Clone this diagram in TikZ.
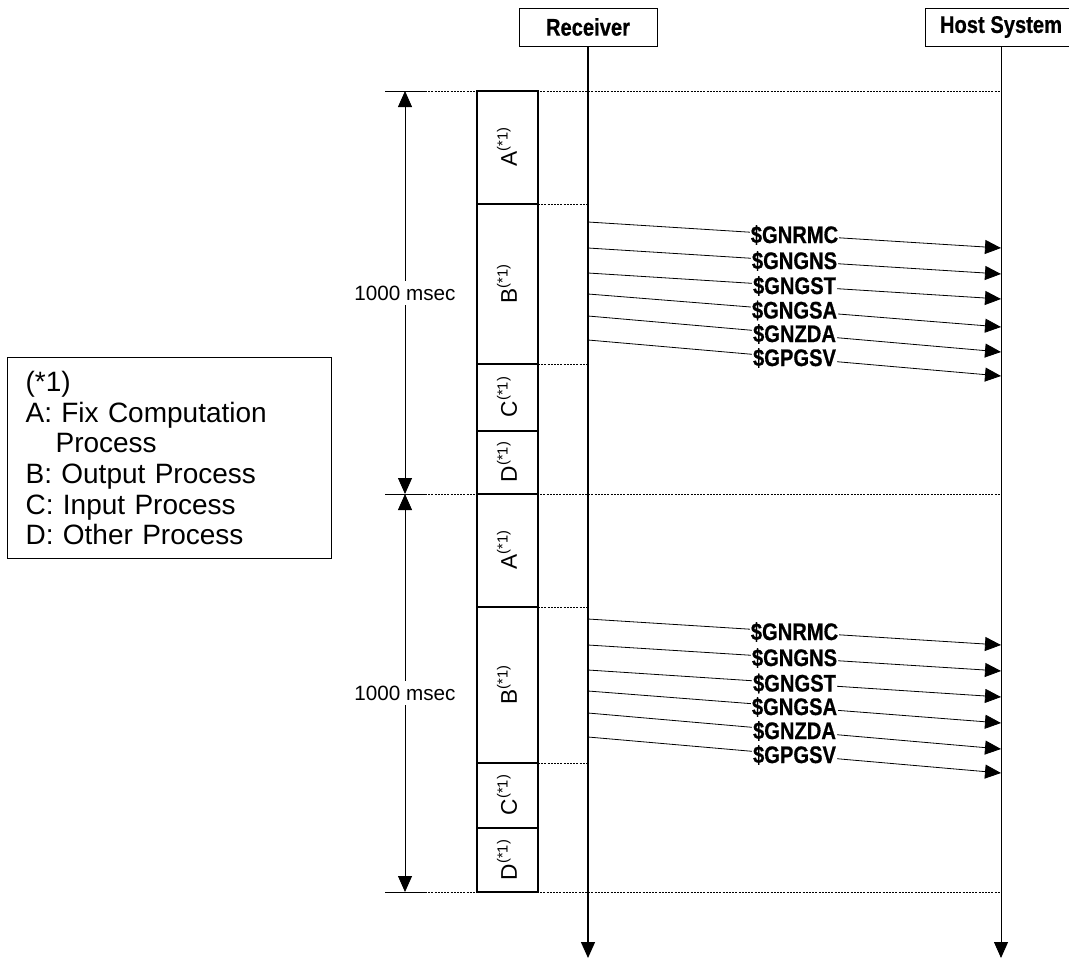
\documentclass[tikz,border=0pt]{standalone}
\usepackage{fontspec}
\setmainfont{Liberation Sans}
\newfontfamily\seqfont[FakeStretch=0.84,BoldFeatures={FakeBold=0.6}]{Liberation Sans}
\usetikzlibrary{arrows.meta}
\newcommand{\procmark}[1]{#1\raisebox{7pt}{\fontsize{11}{12}\selectfont(*1)}}

\begin{document}
\begin{tikzpicture}[x=0.75pt,y=-0.75pt,
    actor/.style={draw,line width=0.75pt,minimum height=28.5pt,inner sep=0pt,
      font=\seqfont\bfseries\fontsize{18}{20}\selectfont},
    tag/.style={fill=white,inner xsep=0.6pt,inner ysep=0pt,font=\seqfont\bfseries\fontsize{18}{20}\selectfont},
    msg/.style={line width=0.6pt,-{Triangle[length=12pt,width=10.5pt]}},
    dotline/.style={line width=0.6pt,dash pattern=on 1.5pt off 0.9pt},
    proc/.style={draw,line width=0.9pt},
    plabel/.style={rotate=90,font=\fontsize{17}{18}\selectfont},
    span/.style={line width=0.6pt,{Triangle[length=12pt,width=10.5pt]}-{Triangle[length=12pt,width=10.5pt]}},
    dur/.style={fill=white,font=\fontsize{15.5}{17}\selectfont}]
  \useasboundingbox (0,0) rectangle (1069,960);

  % lifelines
  \node[actor,minimum width=103.5pt] (recv) at (588,27) {Receiver};
  \node[actor,minimum width=114pt] (host) at (1001,27) {Host System};
  \coordinate (rend) at (588,958);
  \coordinate (hend) at (1001,958);
  \draw[line width=1pt,-{Triangle[length=12pt,width=10.5pt]}] (recv) -- (rend);
  \draw[line width=0.7pt,-{Triangle[length=12pt,width=10.5pt]}] (host) -- (hend);

  % frame boundaries
  \draw[line width=0.6pt] (385,91) -- (425,91);
  \draw[dotline] (425,91) -- (1001,91);
  \draw[line width=0.6pt] (385,494) -- (425,494);
  \draw[dotline] (425,494) -- (1001,494);
  \draw[line width=0.6pt] (385,892) -- (425,892);
  \draw[dotline] (425,892) -- (1001,892);
  \draw[dotline] (538,204) -- (588,204);
  \draw[dotline] (538,364) -- (588,364);
  \draw[dotline] (538,607) -- (588,607);
  \draw[dotline] (538,763) -- (588,763);

  % processes, first second
  \draw[proc] (477,91) rectangle (538,204);
  \draw[proc] (477,204) rectangle (538,364);
  \draw[proc] (477,364) rectangle (538,431);
  \draw[proc] (477,431) rectangle (538,494);
  \node[plabel] (pa1) at (507,147) {\procmark{A}};
  \node[plabel] (pb1) at (507,284) {\procmark{B}};
  \node[plabel] (pc1) at (507,397) {\procmark{C}};
  \node[plabel] (pd1) at (507,462) {\procmark{D}};

  % processes, next second
  \draw[proc] (477,494) rectangle (538,607);
  \draw[proc] (477,607) rectangle (538,763);
  \draw[proc] (477,763) rectangle (538,828);
  \draw[proc] (477,828) rectangle (538,892);
  \node[plabel] (pa2) at (507,550) {\procmark{A}};
  \node[plabel] (pb2) at (507,685) {\procmark{B}};
  \node[plabel] (pc2) at (507,795) {\procmark{C}};
  \node[plabel] (pd2) at (507,860) {\procmark{D}};

  % 1000 msec spans
  \coordinate (t1) at (405,91);
  \coordinate (t2) at (405,494);
  \coordinate (t3) at (405,892);
  \draw[span] (t1) -- (t2);
  \draw[span] (t2) -- (t3);
  \node[dur] (d1) at (405,293) {1000 msec};
  \node[dur] (d2) at (405,693) {1000 msec};

  % sentences, first second
  \coordinate (s1) at (588,222); \coordinate (e1) at (1001,248);
  \coordinate (s2) at (588,248); \coordinate (e2) at (1001,274);
  \coordinate (s3) at (588,273); \coordinate (e3) at (1001,299);
  \coordinate (s4) at (588,294); \coordinate (e4) at (1001,327);
  \coordinate (s5) at (588,316); \coordinate (e5) at (1001,352);
  \coordinate (s6) at (588,340); \coordinate (e6) at (1001,376);
  \draw[msg] (s1) -- node[tag] (m1) {\$GNRMC} (e1);
  \draw[msg] (s2) -- node[tag] (m2) {\$GNGNS} (e2);
  \draw[msg] (s3) -- node[tag] (m3) {\$GNGST} (e3);
  \draw[msg] (s4) -- node[tag] (m4) {\$GNGSA} (e4);
  \draw[msg] (s5) -- node[tag] (m5) {\$GNZDA} (e5);
  \draw[msg] (s6) -- node[tag] (m6) {\$GPGSV} (e6);

  % sentences, next second
  \coordinate (s7) at (588,619); \coordinate (e7) at (1001,645);
  \coordinate (s8) at (588,645); \coordinate (e8) at (1001,671);
  \coordinate (s9) at (588,670); \coordinate (e9) at (1001,697);
  \coordinate (s10) at (588,691); \coordinate (e10) at (1001,723);
  \coordinate (s11) at (588,713); \coordinate (e11) at (1001,749);
  \coordinate (s12) at (588,737); \coordinate (e12) at (1001,773);
  \draw[msg] (s7) -- node[tag] (m7) {\$GNRMC} (e7);
  \draw[msg] (s8) -- node[tag] (m8) {\$GNGNS} (e8);
  \draw[msg] (s9) -- node[tag] (m9) {\$GNGST} (e9);
  \draw[msg] (s10) -- node[tag] (m10) {\$GNGSA} (e10);
  \draw[msg] (s11) -- node[tag] (m11) {\$GNZDA} (e11);
  \draw[msg] (s12) -- node[tag] (m12) {\$GPGSV} (e12);

  % note
  \node[draw,line width=0.9pt,anchor=north west,inner xsep=13.5pt,text width=216pt,
    minimum height=150.75pt,align=left,font=\fontsize{21}{23}\selectfont] (legend) at (7,357)
    {(*1)\\A: Fix Computation\\\hspace*{22.5pt}Process\\B: Output Process\\C: Input Process\\D: Other Process};
\end{tikzpicture}
\end{document}
